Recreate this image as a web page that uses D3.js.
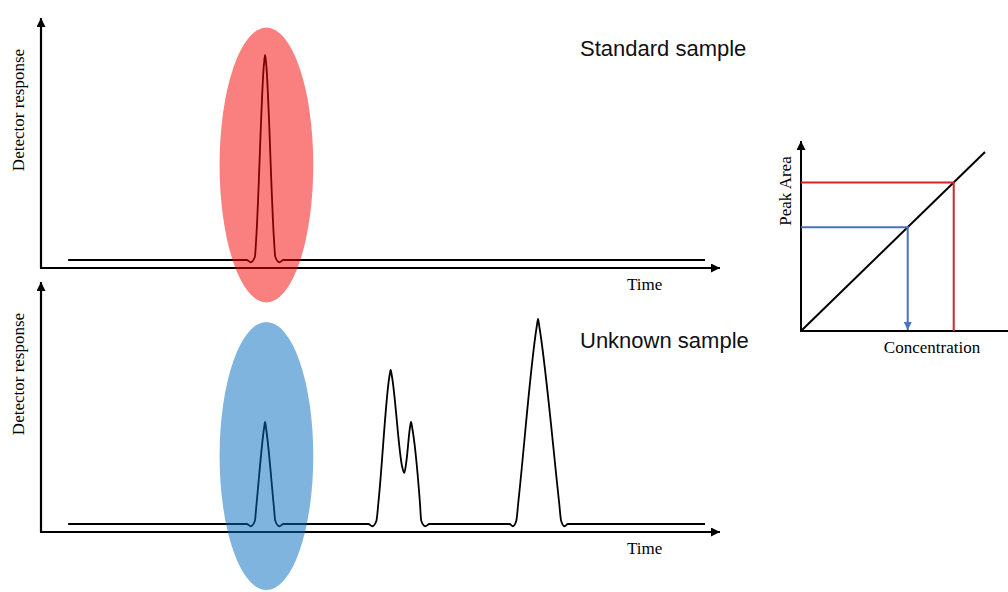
<!DOCTYPE html>
<html>
<head>
<meta charset="utf-8">
<script src="https://cdn.jsdelivr.net/npm/d3@7"></script>
<style>
  body { margin: 0; background: #fff; }
  svg { display: block; }
  .serif { font-family: "Liberation Serif", "Times New Roman", serif; font-size: 17px; fill: #000; }
  .sans { font-family: "Liberation Sans", Arial, sans-serif; font-size: 22px; fill: #111; }
</style>
</head>
<body>
<svg></svg>
<script>
var width = 1008;
var height = 592;

// chromatogram traces, [time, response] (time 0-100, response 0-100)
var standardTrace = [
  [4, 3.2], [30.3, 3.2], [30.9, 2.3], [31.5, 4.5], [31.7, 12],
  [32.85, 82], [33.0, 85.2], [33.15, 82],
  [34.3, 12], [34.5, 4.5], [35.1, 2.3], [35.7, 3.2], [97.8, 3.2]
];
var unknownTrace = [
  [4, 3.2], [30.3, 3.2], [30.9, 2.3], [31.5, 4.5], [31.7, 10],
  [32.85, 41.5], [33.0, 44], [33.15, 41.5],
  [34.3, 10], [34.5, 4.5], [35.1, 2.3], [35.7, 3.2],
  [48.2, 3.2], [48.8, 2.3], [49.4, 4.5], [49.7, 12],
  [51.3, 62], [51.5, 64.8], [51.7, 62],
  [53.2, 26], [53.5, 23.6], [53.8, 28],
  [54.35, 42], [54.5, 44], [54.65, 42],
  [55.8, 12], [56.0, 4.5], [56.6, 2.3], [57.2, 3.2],
  [69.0, 3.2], [69.5, 2.3], [70.0, 4.5], [70.3, 12],
  [73.0, 82], [73.2, 85.2], [73.4, 82],
  [76.3, 12], [76.6, 4.5], [77.1, 2.3], [77.6, 3.2], [97.8, 3.2]
];

// highlighted peak (ellipse) in data units: [time centre, response centre, time radius, response radius]
var standardMark = [33.2, 41.2, 6.9, 55];
var unknownMark = [33.2, 30.4, 6.9, 53.6];

// calibration curve (concentration vs peak area, 0-10)
var calLine = [[0, 0], [10, 10]];
var standardPoint = [8.3, 8.3];
var unknownPoint = [5.8, 5.8];

var panelTitles = ["Standard sample", "Unknown sample"];

var svg = d3.select("svg")
  .attr("width", width)
  .attr("height", height);

var defs = svg.append("defs");
function arrowMarker(id, color, size) {
  defs.append("marker")
    .attr("id", id)
    .attr("viewBox", "0 0 10 10")
    .attr("refX", 10).attr("refY", 5)
    .attr("markerUnits", "userSpaceOnUse")
    .attr("markerWidth", size).attr("markerHeight", size)
    .attr("orient", "auto")
    .append("path")
    .attr("d", "M0,0 L10,5 L0,10 Z")
    .attr("fill", color);
}
arrowMarker("arrowBlack", "#000", 9);
arrowMarker("arrowBlue", "#4a72be", 8);

var x = d3.scaleLinear().domain([0, 100]).range([41, 720]);

function chromPanel(top, trace, mark, markColor, title, titleY) {
  var y = d3.scaleLinear().domain([0, 100]).range([top + 250, top]);
  var g = svg.append("g");

  // axes with arrows
  g.append("line")
    .attr("x1", x(0)).attr("y1", y(0))
    .attr("x2", x(0)).attr("y2", y(100))
    .attr("stroke", "#000").attr("stroke-width", 2.2)
    .attr("marker-end", "url(#arrowBlack)");
  g.append("line")
    .attr("x1", x(0) - 1).attr("y1", y(0))
    .attr("x2", x(100)).attr("y2", y(0))
    .attr("stroke", "#000").attr("stroke-width", 2.2)
    .attr("marker-end", "url(#arrowBlack)");

  var line = d3.line()
    .x(function(d) { return x(d[0]); })
    .y(function(d) { return y(d[1]); })
    .curve(d3.curveMonotoneX);

  g.append("path")
    .datum(trace)
    .attr("d", line)
    .attr("fill", "none")
    .attr("stroke", "#000")
    .attr("stroke-width", 1.8)
    .attr("stroke-linejoin", "round");

  // translucent ellipse over the peak
  g.append("ellipse")
    .attr("cx", x(mark[0]))
    .attr("cy", y(mark[1]))
    .attr("rx", x(mark[2]) - x(0))
    .attr("ry", y(0) - y(mark[3]))
    .attr("fill", markColor)
    .attr("fill-opacity", 0.5);

  g.append("text")
    .attr("class", "serif")
    .attr("x", 627).attr("y", top + 272)
    .text("Time");

  g.append("text")
    .attr("class", "serif")
    .attr("transform", "translate(24," + (top + 92) + ") rotate(-90)")
    .attr("text-anchor", "middle")
    .text("Detector response");

  g.append("text")
    .attr("class", "sans")
    .attr("x", 580).attr("y", titleY)
    .text(title);
}

chromPanel(18, standardTrace, standardMark, "#f50000", panelTitles[0], 56);
chromPanel(282, unknownTrace, unknownMark, "#0069be", panelTitles[1], 348);

// calibration plot
var cx = d3.scaleLinear().domain([0, 10]).range([801, 985]);
var cy = d3.scaleLinear().domain([0, 10]).range([331, 152]);
var cal = svg.append("g");

cal.append("line")
  .attr("x1", cx(0)).attr("y1", cy(0))
  .attr("x2", cx(0)).attr("y2", 141)
  .attr("stroke", "#000").attr("stroke-width", 2)
  .attr("marker-end", "url(#arrowBlack)");
cal.append("line")
  .attr("x1", cx(0) - 1).attr("y1", cy(0))
  .attr("x2", 1015).attr("y2", cy(0))
  .attr("stroke", "#000").attr("stroke-width", 2);

cal.append("path")
  .datum(calLine)
  .attr("d", d3.line().x(function(d) { return cx(d[0]); }).y(function(d) { return cy(d[1]); }))
  .attr("stroke", "#000").attr("stroke-width", 2).attr("fill", "none");

// standard: area -> concentration (red)
cal.append("path")
  .attr("d", "M" + cx(0) + "," + cy(standardPoint[1]) +
    "H" + cx(standardPoint[0]) + "V" + cy(0))
  .attr("fill", "none").attr("stroke", "#d8222b").attr("stroke-width", 2);

// unknown: area -> concentration (blue, arrow)
cal.append("path")
  .attr("d", "M" + cx(0) + "," + cy(unknownPoint[1]) +
    "H" + cx(unknownPoint[0]) + "V" + (cy(0) - 1))
  .attr("fill", "none").attr("stroke", "#4a72be").attr("stroke-width", 2)
  .attr("marker-end", "url(#arrowBlue)");

cal.append("text")
  .attr("class", "serif")
  .attr("x", 932).attr("y", 353)
  .attr("text-anchor", "middle")
  .text("Concentration");

cal.append("text")
  .attr("class", "serif")
  .attr("transform", "translate(791,191) rotate(-90)")
  .attr("text-anchor", "middle")
  .text("Peak Area");
</script>
</body>
</html>
